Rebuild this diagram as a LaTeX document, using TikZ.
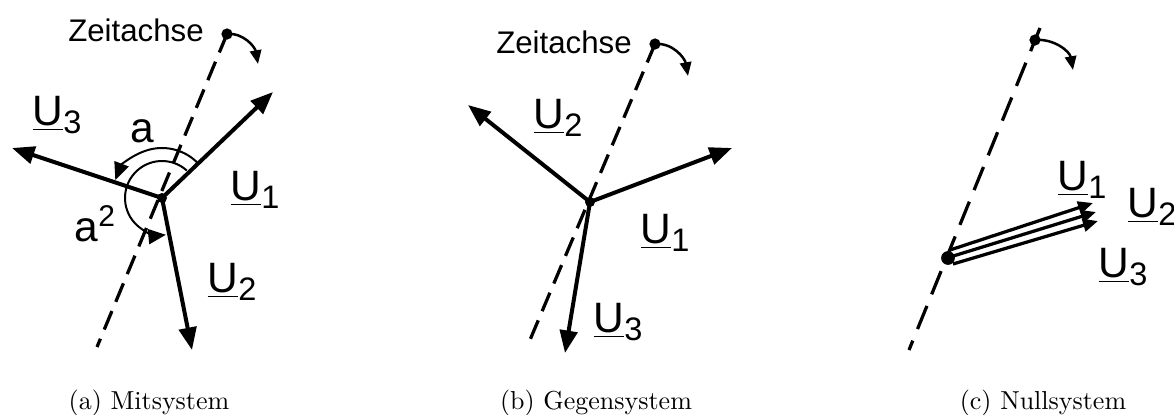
\documentclass[tikz,border=0pt]{standalone}
\usepackage{fontspec}
\usepackage{tikz}
\usetikzlibrary{arrows.meta,calc}
\newfontfamily\arialfont{Liberation Sans}
\newcommand{\Uph}[1]{\underline{U}\raisebox{-3pt}{\fontsize{13}{13}\selectfont #1}}
\tikzset{
  phasor/.style={-{Triangle[length=9pt,width=7pt]}, line width=1.6pt},
  zeroph/.style={-{Triangle[length=6pt,width=5pt]}, line width=1.3pt},
  zeitachse/.style={line width=1.3pt, dash pattern=on 8pt off 4pt},
  angarc/.style={-{Triangle[length=7pt,width=6pt]}, line width=0.8pt},
  turn/.style={-{Triangle[length=5.5pt,width=4.5pt]}, line width=1pt},
  pivot/.style={circle, fill, inner sep=0pt, minimum size=4pt},
  lbl/.style={font=\arialfont\fontsize{17}{17}\selectfont, inner sep=0pt},
  axlbl/.style={font=\arialfont\fontsize{12.5}{12.5}\selectfont, inner sep=0pt},
  anglbl/.style={font=\arialfont\fontsize{17}{17}\selectfont, inner sep=0pt},
  subcap/.style={font=\fontsize{10.4}{12}\selectfont, anchor=base, inner sep=0pt}
}
\begin{document}
\begin{tikzpicture}[x=0.4pt, y=0.4pt]
  \useasboundingbox (0,0) rectangle (1174,-414);

  % (a) Mitsystem
  \node[pivot] (Oa) at (162,-198) {};
  \node[pivot, minimum size=4.5pt] (Za) at (227,-34) {};
  \coordinate (Za-end) at (97,-347);
  \coordinate (Ta) at (258,-64);
  \coordinate (a1) at (273,-92);
  \coordinate (a2) at (192,-350);
  \coordinate (a3) at (12,-148);
  \draw[zeitachse] (Za.center) -- (Za-end);
  \draw[turn] (Za.center) to[out=5,in=100] (Ta);
  \draw[phasor] (Oa.center) -- (a1);
  \draw[phasor] (Oa.center) -- (a2);
  \draw[phasor] (Oa.center) -- (a3);
  \draw[angarc] ([shift={(44:50)}]Oa.center) arc[start angle=44, end angle=159, radius=50];
  \draw[angarc] ([shift={(48:37)}]Oa.center) arc[start angle=48, end angle=276, radius=37];
  \node[axlbl] (za-lbl) at (136,-30) {Zeitachse};
  \node[lbl] (u1a) at (255,-190) {\Uph{1}};
  \node[lbl] (u2a) at (232,-282) {\Uph{2}};
  \node[lbl] (u3a) at (57,-115) {\Uph{3}};
  \node[anglbl] (aa) at (142,-131) {a};
  \node[anglbl] (a2a) at (95,-224) {a\raisebox{6pt}{\fontsize{12}{12}\selectfont 2}};
  \node[subcap] (capa) at (149,-409.5) {(a) Mitsystem};

  % (b) Gegensystem
  \node[pivot] (Ob) at (590,-202) {};
  \node[pivot, minimum size=4.5pt] (Zb) at (655,-44) {};
  \coordinate (Zb-end) at (527,-347);
  \coordinate (Tb) at (688,-76);
  \coordinate (b1) at (732,-148);
  \coordinate (b2) at (468,-105);
  \coordinate (b3) at (565,-353);
  \draw[zeitachse] (Zb.center) -- (Zb-end);
  \draw[turn] (Zb.center) to[out=5,in=100] (Tb);
  \draw[phasor] (Ob.center) -- (b1);
  \draw[phasor] (Ob.center) -- (b2);
  \draw[phasor] (Ob.center) -- (b3);
  \node[axlbl] (zb-lbl) at (564,-42) {Zeitachse};
  \node[lbl] (u1b) at (665,-233) {\Uph{1}};
  \node[lbl] (u2b) at (558,-118) {\Uph{2}};
  \node[lbl] (u3b) at (618,-322) {\Uph{3}};
  \node[subcap] (capb) at (596,-409.5) {(b) Gegensystem};

  % (c) Nullsystem
  \node[pivot, minimum size=5.5pt] (Oc) at (948,-258) {};
  \node[pivot, minimum size=4.5pt] (Zc) at (1035,-40) {};
  \coordinate (Zc-top) at (1040,-28);
  \coordinate (Zc-end) at (909,-350);
  \coordinate (Tc) at (1073,-70);
  \coordinate (c1s) at (950,-250);
  \coordinate (c2s) at (950,-257);
  \coordinate (c3s) at (953,-264);
  \coordinate (c1) at (1093,-203);
  \coordinate (c2) at (1096,-212);
  \coordinate (c3) at (1098,-221);
  \draw[zeitachse, dash pattern=on 10pt off 5pt] (Zc-top) -- (Zc-end);
  \draw[turn] (Zc.center) to[out=5,in=100] (Tc);
  \draw[zeroph] (c1s) -- (c1);
  \draw[zeroph] (c2s) -- (c2);
  \draw[zeroph] (c3s) -- (c3);
  \node[lbl] (u1c) at (1082,-180) {\Uph{1}};
  \node[lbl] (u2c) at (1152,-207) {\Uph{2}};
  \node[lbl] (u3c) at (1123,-267) {\Uph{3}};
  \node[subcap] (capc) at (1043,-409.5) {(c) Nullsystem};
\end{tikzpicture}
\end{document}
